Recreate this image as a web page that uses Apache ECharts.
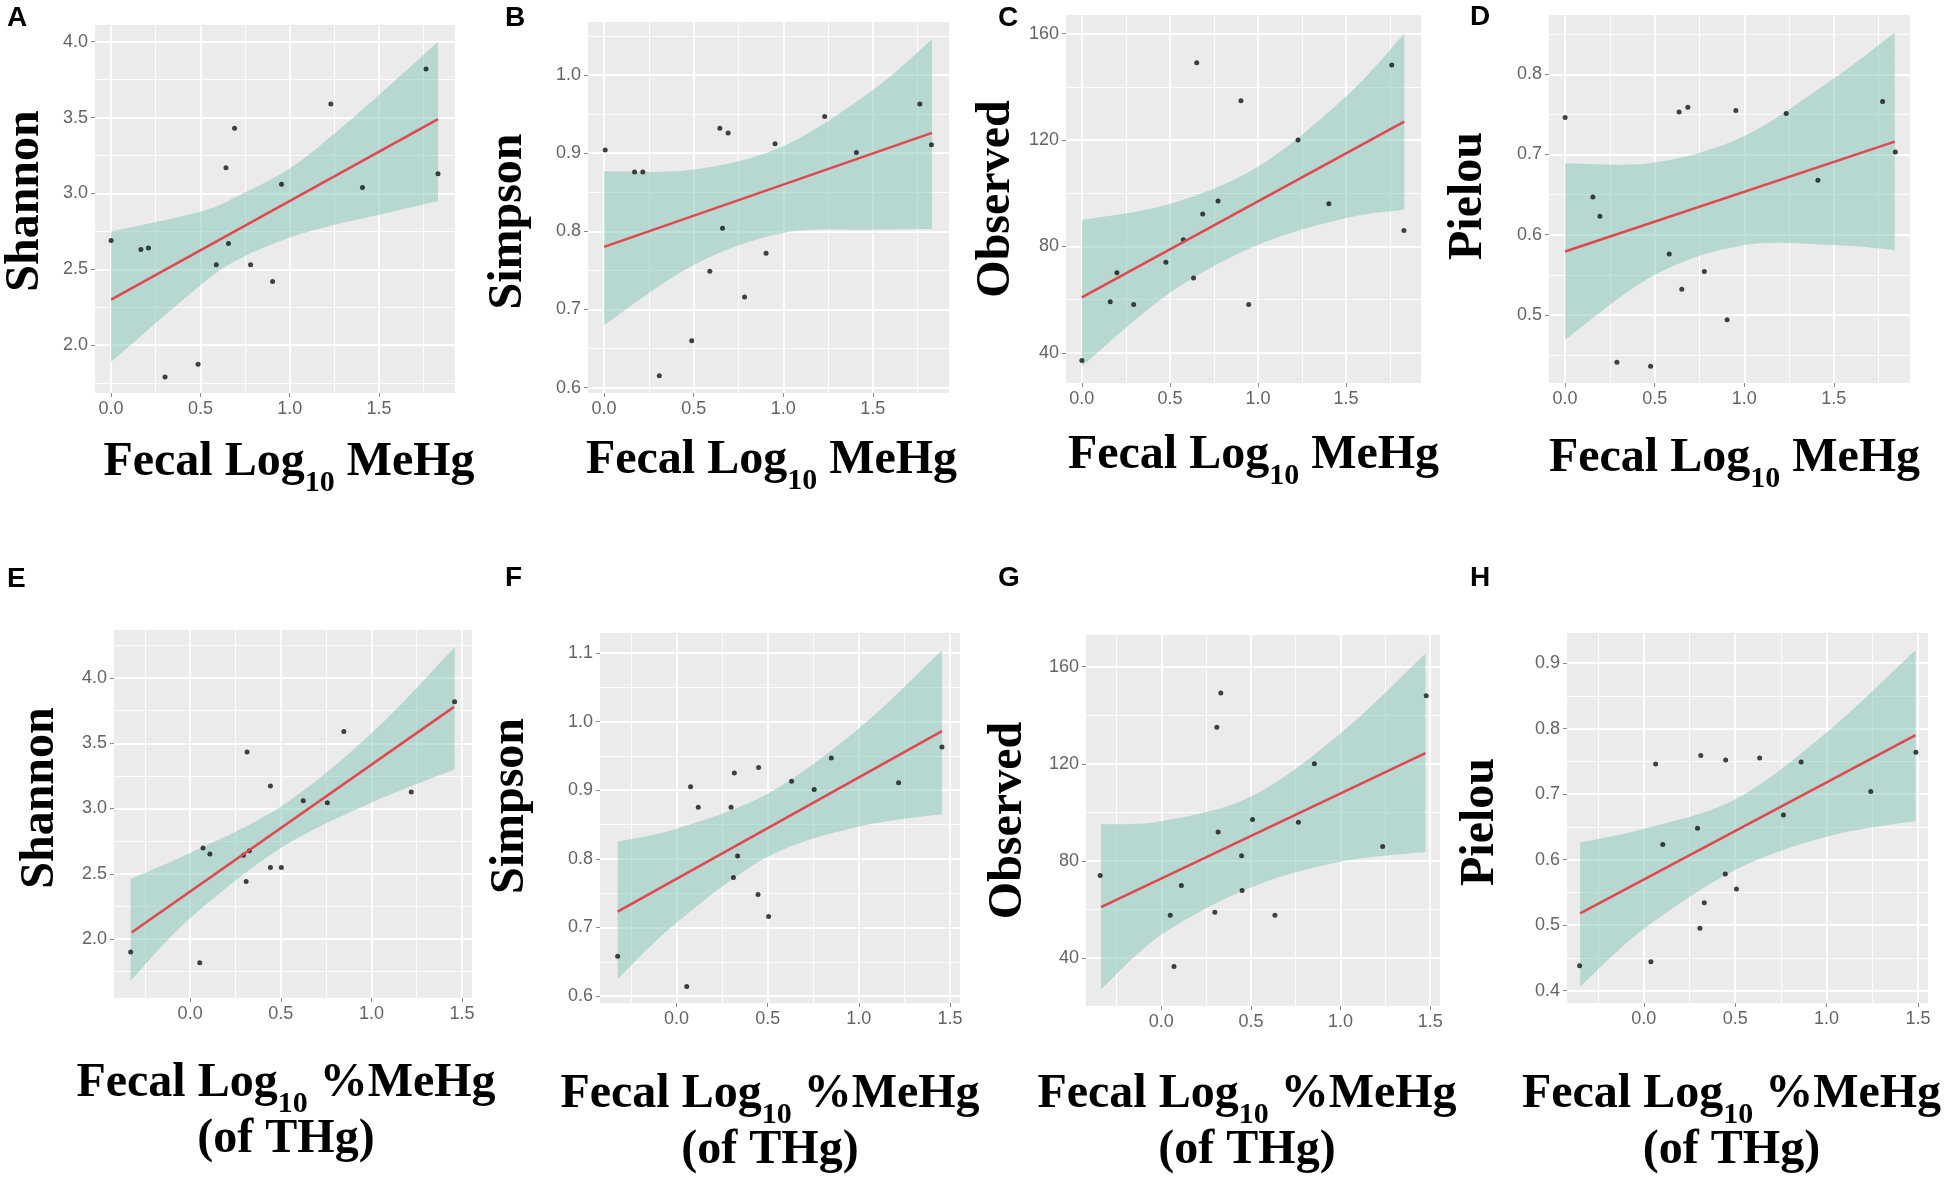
<!DOCTYPE html>
<html lang="en">
<head>
<meta charset="UTF-8" />
<title>Alpha diversity vs fecal MeHg</title>
<script src="https://cdn.jsdelivr.net/npm/echarts@6/dist/echarts.min.js"></script>
<style>
  html, body { margin: 0; padding: 0; background: #fff; }
  #main { width: 1955px; height: 1177px; }
</style>
</head>
<body>
<div id="main"></div>
<script type="text/javascript">
// points: [x, y]
var ptsA = [[0.0, 2.69], [0.167, 2.63], [0.209, 2.64], [0.302, 1.79], [0.487, 1.875], [0.589, 2.53], [0.643, 3.17], [0.657, 2.67],
            [0.691, 3.43], [0.781, 2.53], [0.904, 2.42], [0.954, 3.06], [1.23, 3.59], [1.407, 3.04], [1.763, 3.82], [1.83, 3.13]];
var ptsB = [[0.006, 0.904], [0.17, 0.876], [0.216, 0.876], [0.308, 0.615], [0.489, 0.66], [0.59, 0.749], [0.646, 0.932], [0.661, 0.804],
            [0.692, 0.926], [0.784, 0.716], [0.904, 0.772], [0.954, 0.912], [1.231, 0.947], [1.408, 0.901], [1.762, 0.963], [1.827, 0.911]];
var ptsC = [[0.0, 37.2], [0.161, 59.2], [0.199, 70.1], [0.294, 58.2], [0.477, 74.1], [0.576, 82.5], [0.634, 68.2], [0.652, 149.1],
            [0.686, 92.2], [0.773, 97.1], [0.903, 134.8], [0.947, 58.2], [1.227, 120], [1.402, 96.1], [1.759, 148.2], [1.828, 86.0]];
var ptsD = [[0.0, 0.746], [0.155, 0.647], [0.194, 0.623], [0.289, 0.441], [0.477, 0.436], [0.581, 0.576], [0.636, 0.753], [0.651, 0.532],
            [0.685, 0.759], [0.777, 0.554], [0.904, 0.494], [0.953, 0.755], [1.234, 0.751], [1.411, 0.668], [1.772, 0.766], [1.843, 0.703]];
var ptsE = [[-0.328, 1.90], [0.053, 1.818], [0.071, 2.697], [0.109, 2.652], [0.294, 2.642], [0.309, 2.44], [0.314, 3.433], [0.327, 2.676],
            [0.443, 3.173], [0.443, 2.548], [0.503, 2.548], [0.624, 3.06], [0.757, 3.045], [0.848, 3.591], [1.22, 3.127], [1.459, 3.818]];
var ptsF = [[-0.323, 0.658], [0.056, 0.614], [0.077, 0.905], [0.119, 0.875], [0.299, 0.875], [0.317, 0.925], [0.312, 0.773], [0.335, 0.804],
            [0.45, 0.933], [0.447, 0.748], [0.505, 0.716], [0.631, 0.913], [0.755, 0.901], [0.849, 0.947], [1.218, 0.911], [1.456, 0.963]];
var ptsG = [[-0.341, 74.0], [0.05, 57.7], [0.071, 36.6], [0.112, 69.9], [0.299, 58.9], [0.31, 135.0], [0.332, 149.1], [0.317, 91.9],
            [0.448, 82.1], [0.451, 67.8], [0.509, 97.1], [0.634, 57.7], [0.765, 95.9], [0.854, 120], [1.235, 85.9], [1.478, 148.0]];
var ptsH = [[-0.351, 0.438], [0.039, 0.444], [0.065, 0.746], [0.104, 0.623], [0.294, 0.648], [0.307, 0.495], [0.312, 0.759], [0.331, 0.534],
            [0.446, 0.578], [0.448, 0.752], [0.507, 0.555], [0.634, 0.755], [0.764, 0.668], [0.861, 0.749], [1.242, 0.704], [1.489, 0.764]];

// fitted line end points
var fitA = [[0, 2.30], [1.83, 3.49]];
var fitB = [[0, 0.78], [1.83, 0.926]];
var fitC = [[0, 60.9], [1.83, 126.9]];
var fitD = [[0, 0.579], [1.84, 0.716]];
var fitE = [[-0.323, 2.05], [1.456, 3.779]];
var fitF = [[-0.323, 0.723], [1.456, 0.986]];
var fitG = [[-0.336, 61.0], [1.474, 124.4]];
var fitH = [[-0.348, 0.518], [1.487, 0.79]];

// confidence band, sampled along x
var bandXA = [0, 0.5, 0.72, 1.0, 1.24, 1.5, 1.83];
var bandHiA = [2.75, 2.88, 2.99, 3.165, 3.385, 3.65, 4.0];
var bandLoA = [1.89, 2.395, 2.57, 2.71, 2.79, 2.86, 2.95];
var bandXB = [0, 0.5, 1.0, 1.5, 1.83];
var bandHiB = [0.877, 0.879, 0.909, 0.981, 1.046];
var bandLoB = [0.68, 0.757, 0.798, 0.802, 0.803];
var bandXC = [0, 0.5, 1.0, 1.5, 1.83];
var bandHiC = [90, 96, 110, 136.4, 160];
var bandLoC = [35, 62.6, 80.6, 90.7, 93.8];
var bandXD = [0, 0.5, 1.0, 1.5, 1.84];
var bandHiD = [0.689, 0.69, 0.723, 0.795, 0.852];
var bandLoD = [0.469, 0.55, 0.587, 0.587, 0.581];
var bandXE = [-0.328, 0, 0.5, 1.0, 1.459];
var bandHiE = [2.46, 2.66, 3.015, 3.576, 4.236];
var bandLoE = [1.68, 2.16, 2.697, 3.045, 3.30];
var bandXF = [-0.323, 0, 0.5, 1.0, 1.456];
var bandHiF = [0.825, 0.844, 0.895, 0.99, 1.104];
var bandLoF = [0.625, 0.707, 0.803, 0.847, 0.865];
var bandXG = [-0.336, 0, 0.5, 1.0, 1.474];
var bandHiG = [95.1, 96.4, 106.5, 132.5, 165.4];
var bandLoG = [27.2, 49.6, 69.1, 79.7, 83.7];
var bandXH = [-0.348, 0, 0.5, 1.0, 1.487];
var bandHiH = [0.626, 0.647, 0.692, 0.794, 0.92];
var bandLoH = [0.406, 0.494, 0.584, 0.635, 0.659];

// tick values (major / minor grid)
var xTicks = [0, 0.5, 1.0, 1.5];
var xMinorTop = [0.25, 0.75, 1.25, 1.75];
var xMinorBottom = [-0.25, 0.25, 0.75, 1.25];
var shannonTicks = [2.0, 2.5, 3.0, 3.5, 4.0];
var shannonMinor = [1.75, 2.25, 2.75, 3.25, 3.75, 4.25];
var simpsonTicks = [0.6, 0.7, 0.8, 0.9, 1.0, 1.1];
var simpsonMinor = [0.65, 0.75, 0.85, 0.95, 1.05];
var observedTicks = [40, 80, 120, 160];
var observedMinor = [20, 60, 100, 140];
var pielouTicks = [0.4, 0.5, 0.6, 0.7, 0.8, 0.9];
var pielouMinor = [0.45, 0.55, 0.65, 0.75, 0.85];

var SERIF = "'Liberation Serif', 'Times New Roman', serif";
var SANS = "'Liberation Sans', Arial, sans-serif";
var BAND_FILL = 'rgba(129,197,181,0.5)';

// layout per panel; yShift / xShift nudge the axis titles off centre like in the figure
var panels = [
    { tag: 'A', pts: ptsA, fit: fitA, bx: bandXA, hi: bandHiA, lo: bandLoA, grid: [95, 25, 360, 368], xr: [-0.09, 1.925], yr: [1.685, 4.11],
      yt: shannonTicks, ym: shannonMinor, dec: 1, yName: 'Shannon', yGap: 45, xGap: 46, yShift: -8, xShift: 14, bottom: false, tagPos: [7, 4] },
    { tag: 'B', pts: ptsB, fit: fitB, bx: bandXB, hi: bandHiB, lo: bandLoB, grid: [588, 22, 361, 371], xr: [-0.09, 1.925], yr: [0.593, 1.068],
      yt: simpsonTicks, ym: simpsonMinor, dec: 1, yName: 'Simpson', yGap: 55, xGap: 44, yShift: 14, xShift: 3, bottom: false, tagPos: [505, 4] },
    { tag: 'C', pts: ptsC, fit: fitC, bx: bandXC, hi: bandHiC, lo: bandLoC, grid: [1066, 15, 355, 368], xr: [-0.09, 1.925], yr: [28.7, 167],
      yt: observedTicks, ym: observedMinor, dec: 0, yName: 'Observed', yGap: 45, xGap: 49, yShift: 0, xShift: 10, bottom: false, tagPos: [998, 4] },
    { tag: 'D', pts: ptsD, fit: fitD, bx: bandXD, hi: bandHiD, lo: bandLoD, grid: [1549, 15, 361, 368], xr: [-0.09, 1.925], yr: [0.415, 0.874],
      yt: pielouTicks, ym: pielouMinor, dec: 1, yName: 'Pielou', yGap: 56, xGap: 52, yShift: -3, xShift: 5, bottom: false, tagPos: [1470, 3] },
    { tag: 'E', pts: ptsE, fit: fitE, bx: bandXE, hi: bandHiE, lo: bandLoE, grid: [114, 630, 358, 368], xr: [-0.42, 1.555], yr: [1.548, 4.368],
      yt: shannonTicks, ym: shannonMinor, dec: 1, yName: 'Shannon', yGap: 49, xGap: 62, yShift: -16, xShift: -7, bottom: true, tagPos: [7, 565] },
    { tag: 'F', pts: ptsF, fit: fitF, bx: bandXF, hi: bandHiF, lo: bandLoF, grid: [600, 633, 360, 370], xr: [-0.42, 1.555], yr: [0.59, 1.129],
      yt: simpsonTicks, ym: simpsonMinor, dec: 1, yName: 'Simpson', yGap: 65, xGap: 68, yShift: -12, xShift: -10, bottom: true, tagPos: [505, 564] },
    { tag: 'G', pts: ptsG, fit: fitG, bx: bandXG, hi: bandHiG, lo: bandLoG, grid: [1086, 635, 354, 371], xr: [-0.42, 1.555], yr: [20.3, 173],
      yt: observedTicks, ym: observedMinor, dec: 0, yName: 'Observed', yGap: 53, xGap: 65, yShift: 0, xShift: -16, bottom: true, tagPos: [998, 564] },
    { tag: 'H', pts: ptsH, fit: fitH, bx: bandXH, hi: bandHiH, lo: bandLoH, grid: [1567, 633, 361, 370], xr: [-0.42, 1.555], yr: [0.381, 0.946],
      yt: pielouTicks, ym: pielouMinor, dec: 1, yName: 'Pielou', yGap: 62, xGap: 68, yShift: 4, xShift: -16, bottom: true, tagPos: [1470, 564] }
];

function inRange(arr, r) {
    return arr.filter(function (v) { return v >= r[0] && v <= r[1]; });
}

// catmull-rom through pixel points, so the band edges come out curved
function curve(pts) {
    var out = [];
    for (var i = 0; i < pts.length - 1; i++) {
        var p0 = pts[i - 1] || pts[i], p1 = pts[i], p2 = pts[i + 1], p3 = pts[i + 2] || pts[i + 1];
        for (var s = 0; s < 12; s++) {
            var t = s / 12, t2 = t * t, t3 = t2 * t;
            var q = [0, 1].map(function (d) {
                return 0.5 * (2 * p1[d] + (p2[d] - p0[d]) * t + (2 * p0[d] - 5 * p1[d] + 4 * p2[d] - p3[d]) * t2 +
                    (3 * p1[d] - p0[d] - 3 * p2[d] + p3[d]) * t3);
            });
            out.push(q);
        }
    }
    out.push(pts[pts.length - 1]);
    return out;
}

function bandRenderer(p) {
    return function (params, api) {
        if (params.dataIndex !== 0) return null;
        var up = p.bx.map(function (x, k) { return api.coord([x, p.hi[k]]); });
        var dn = p.bx.map(function (x, k) { return api.coord([x, p.lo[k]]); });
        var poly = curve(up).concat(curve(dn).reverse());
        return { type: 'polygon', shape: { points: poly }, style: { fill: BAND_FILL }, silent: true };
    };
}

var richName = {
    t: { fontFamily: SERIF, fontWeight: 'bold', fontSize: 48, lineHeight: 56, verticalAlign: 'top', color: '#000' },
    s: { fontFamily: SERIF, fontWeight: 'bold', fontSize: 30, lineHeight: 30, padding: [29, 0, 0, 0], verticalAlign: 'top', color: '#000' },
    u: { fontFamily: SERIF, fontWeight: 'bold', fontSize: 48, lineHeight: 58, verticalAlign: 'top', color: '#000' }
};

function shiftPad(d) {
    // padding on one side moves centred text half that far the other way
    return d >= 0 ? [0, 0, 0, 2 * d] : [0, -2 * d, 0, 0];
}

var option = {
    backgroundColor: '#ffffff',
    animation: false,
    title: [],
    grid: [],
    xAxis: [],
    yAxis: [],
    series: []
};

panels.forEach(function (p, i) {
    option.title.push({
        text: p.tag, left: p.tagPos[0], top: p.tagPos[1], padding: 0,
        textStyle: { fontFamily: SANS, fontWeight: 'bold', fontSize: 28, color: '#000' }
    });
    option.grid.push({
        left: p.grid[0], top: p.grid[1], width: p.grid[2], height: p.grid[3],
        show: true, backgroundColor: '#EBEBEB', borderWidth: 0, containLabel: false
    });

    var xMinor = p.bottom ? xMinorBottom : xMinorTop;
    var xName = p.bottom ? '{t|Fecal Log}{s|10}{t| %MeHg}\n{u|(of THg)}' : '{t|Fecal Log}{s|10}{t| MeHg}';
    var dec = p.dec;

    // minor grid axes (hidden)
    option.xAxis.push({
        gridIndex: i, type: 'value', position: 'top', min: p.xr[0], max: p.xr[1],
        axisLine: { show: false, onZero: false }, axisLabel: { show: false },
        axisTick: { show: false, customValues: inRange(xMinor, p.xr) },
        splitLine: { show: true, lineStyle: { color: '#ffffff', width: 0.9 } }
    });
    option.yAxis.push({
        gridIndex: i, type: 'value', position: 'right', min: p.yr[0], max: p.yr[1],
        axisLine: { show: false, onZero: false }, axisLabel: { show: false },
        axisTick: { show: false, customValues: inRange(p.ym, p.yr) },
        splitLine: { show: true, lineStyle: { color: '#ffffff', width: 0.9 } }
    });
    // major axes with labels and titles
    option.xAxis.push({
        gridIndex: i, type: 'value', position: 'bottom', min: p.xr[0], max: p.xr[1],
        axisLine: { show: false, onZero: false },
        axisTick: { show: true, length: 4, customValues: xTicks, lineStyle: { color: '#8a8a8a', width: 1 } },
        axisLabel: {
            customValues: xTicks, margin: 7, color: '#646464', fontSize: 18, fontFamily: SANS,
            formatter: function (v) { return v.toFixed(1); }
        },
        splitLine: { show: true, lineStyle: { color: '#ffffff', width: 1.8 } },
        name: xName, nameLocation: 'middle', nameGap: p.xGap,
        nameTextStyle: { rich: richName, align: 'center', padding: shiftPad(p.xShift) }
    });
    option.yAxis.push({
        gridIndex: i, type: 'value', position: 'left', min: p.yr[0], max: p.yr[1],
        axisLine: { show: false, onZero: false },
        axisTick: { show: true, length: 4, customValues: inRange(p.yt, p.yr), lineStyle: { color: '#8a8a8a', width: 1 } },
        axisLabel: {
            customValues: inRange(p.yt, p.yr), margin: 7, color: '#646464', fontSize: 18, fontFamily: SANS,
            formatter: function (v) { return v.toFixed(dec); }
        },
        splitLine: { show: true, lineStyle: { color: '#ffffff', width: 1.8 } },
        name: p.yName, nameLocation: 'middle', nameRotate: 90, nameGap: p.yGap,
        // rotated text: local left is screen bottom, so a negative shift (up) pads the left side
        nameTextStyle: { fontFamily: SERIF, fontWeight: 'bold', fontSize: 48, color: '#000', padding: shiftPad(-p.yShift) }
    });

    var ax = 2 * i + 1;
    option.series.push({
        type: 'scatter', xAxisIndex: ax, yAxisIndex: ax, data: p.pts,
        symbolSize: 5, itemStyle: { color: '#141414' }, silent: true
    });
    option.series.push({
        type: 'custom', xAxisIndex: ax, yAxisIndex: ax, silent: true,
        data: p.bx.map(function (x, k) { return [x, p.lo[k], p.hi[k]]; }),
        encode: { x: 0, y: [1, 2] },
        renderItem: bandRenderer(p)
    });
    option.series.push({
        type: 'line', xAxisIndex: ax, yAxisIndex: ax, data: p.fit,
        symbol: 'none', lineStyle: { color: '#E0474F', width: 2.5 }, silent: true
    });
});

var chart = echarts.init(document.getElementById('main'));
chart.setOption(option);
</script>
</body>
</html>
